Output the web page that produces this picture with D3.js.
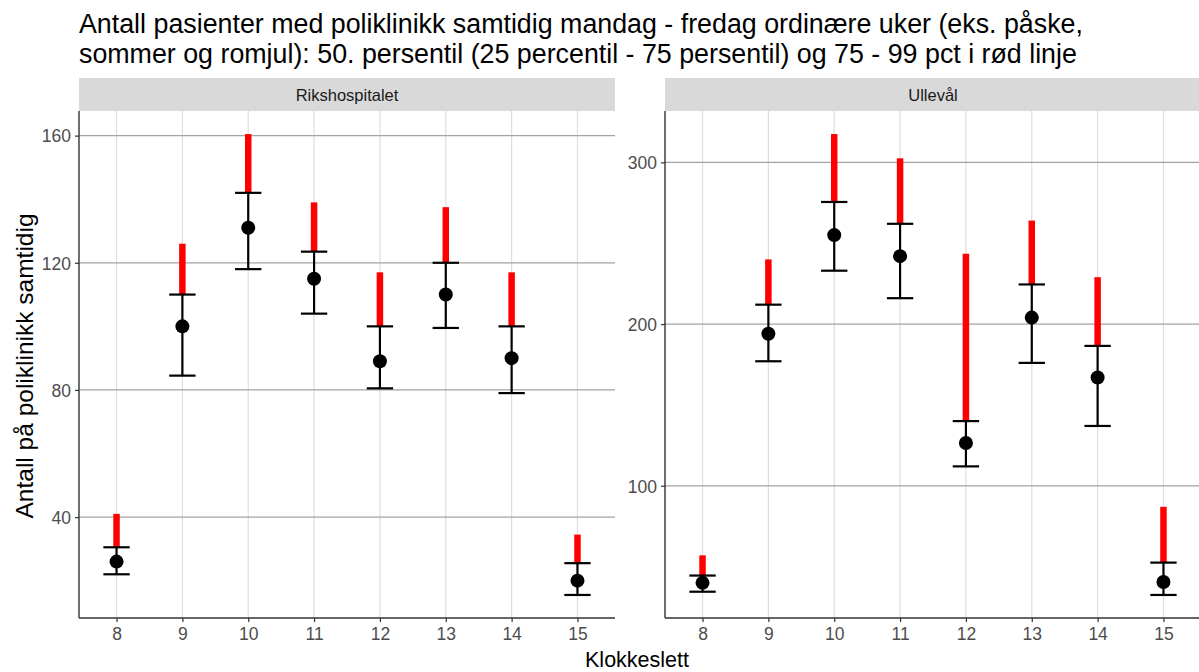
<!DOCTYPE html>
<html>
<head>
<meta charset="utf-8">
<script src="https://cdn.jsdelivr.net/npm/d3@7"></script>
<style>
  body { margin: 0; background: #ffffff; }
  svg { font-family: "Liberation Sans", Arial, sans-serif; }
</style>
</head>
<body>
<div id="chart"></div>
<script>

// --------------------------------------------------------
// (1) Data
// --------------------------------------------------------

var hours = [8, 9, 10, 11, 12, 13, 14, 15]
var panels = ["Rikshospitalet", "Ullevål"]

// Rikshospitalet
var rhMedian = [26, 100, 131, 115, 89, 110, 90, 20]
var rhP25    = [22, 84.5, 118, 104, 80.5, 99.5, 79, 15.5]
var rhP75    = [30.5, 110, 142, 123.5, 100, 120, 100, 25.5]
var rhP99    = [41, 126, 160.5, 139, 117, 137.5, 117, 34.5]

// Ullevål
var uusMedian = [40, 194, 255, 242, 126.5, 204, 167, 40.5]
var uusP25    = [34.5, 177, 233, 216, 112, 176, 137, 32.5]
var uusP75    = [44.5, 212, 275.5, 262, 140, 224.5, 186.5, 52.5]
var uusP99    = [57, 240, 317.5, 302.5, 243.5, 264, 229, 87]

var rhTicks = [40, 80, 120, 160]
var uusTicks = [100, 200, 300]

var titleLines = [
  "Antall pasienter med poliklinikk samtidig mandag - fredag ordinære uker (eks. påske,",
  "sommer og romjul): 50. persentil (25 percentil - 75 persentil) og 75 - 99 pct i rød linje"
]
var xTitle = "Klokkeslett"
var yTitle = "Antall på poliklinikk samtidig"

// --------------------------------------------------------
// (2) Layout
// --------------------------------------------------------

var svg_width = 1199
var svg_height = 672

var panelTop = 111
var panelBottom = 618
var stripTop = 78
var panelWidth = 536
var panelLefts = [79, 665]

var capHalf = 0.2   // error bar width 0.4

function makeRows(med, p25, p75, p99) {
  return hours.map((h, i) => ({ hour: h, med: med[i], lo: p25[i], hi: p75[i], top: p99[i] }))
}

var facets = [
  { name: panels[0], rows: makeRows(rhMedian, rhP25, rhP75, rhP99), ticks: rhTicks },
  { name: panels[1], rows: makeRows(uusMedian, uusP25, uusP75, uusP99), ticks: uusTicks }
]

// --------------------------------------------------------
// (3) Draw
// --------------------------------------------------------

const svg = d3.select("#chart")
  .append("svg")
    .attr("width", svg_width)
    .attr("height", svg_height)

// title
svg.append("g")
  .selectAll("text")
  .data(titleLines)
  .join("text")
    .attr("x", 79)
    .attr("y", (d, i) => 33 + i * 30)
    .attr("font-size", 26.8)
    .attr("fill", "#000")
    .text(d => d)

facets.forEach((f, k) => {
  const left = panelLefts[k]

  const x = d3.scaleLinear()
    .domain([hours[0] - capHalf, hours[hours.length - 1] + capHalf])
    .range([0, panelWidth])
  const xd = x.domain(), xr = xd[1] - xd[0]
  x.domain([xd[0] - 0.05 * xr, xd[1] + 0.05 * xr])

  const ext = [d3.min(f.rows, d => d.lo), d3.max(f.rows, d => d.top)]
  const er = ext[1] - ext[0]
  const y = d3.scaleLinear()
    .domain([ext[0] - 0.05 * er, ext[1] + 0.05 * er])
    .range([panelBottom - panelTop, 0])

  const g = svg.append("g")
    .attr("transform", `translate(${left}, ${panelTop})`)

  const h = panelBottom - panelTop

  // strip
  svg.append("rect")
    .attr("x", left)
    .attr("y", stripTop)
    .attr("width", panelWidth)
    .attr("height", panelTop - stripTop)
    .attr("fill", "#d9d9d9")
  svg.append("text")
    .attr("x", left + panelWidth / 2)
    .attr("y", stripTop + (panelTop - stripTop) / 2 + 6)
    .attr("text-anchor", "middle")
    .attr("font-size", 16.5)
    .attr("fill", "#1a1a1a")
    .text(f.name)

  // vertical grid
  g.append("g")
    .selectAll("line")
    .data(hours)
    .join("line")
      .attr("x1", d => x(d)).attr("x2", d => x(d))
      .attr("y1", 0).attr("y2", h)
      .attr("stroke", "#dedede")
      .attr("stroke-width", 1.2)

  // horizontal grid
  g.append("g")
    .selectAll("line")
    .data(f.ticks)
    .join("line")
      .attr("x1", 0).attr("x2", panelWidth)
      .attr("y1", d => y(d)).attr("y2", d => y(d))
      .attr("stroke", "#a3a3a3")
      .attr("stroke-width", 1.3)

  // axes
  const yAxis = g.append("g")
    .call(d3.axisLeft(y).tickValues(f.ticks).tickSize(4).tickPadding(4))
  const xAxis = g.append("g")
    .attr("transform", `translate(0, ${h})`)
    .call(d3.axisBottom(x).tickValues(hours).tickSize(4).tickPadding(6))

  ;[xAxis, yAxis].forEach(a => {
    a.select(".domain").remove()
    a.selectAll(".tick line").attr("stroke", "#333").attr("stroke-width", 1.2)
    a.selectAll(".tick text")
      .attr("fill", "#4d4d4d")
      .attr("font-size", 17.5)
      .attr("font-family", "Liberation Sans, Arial, sans-serif")
  })
  yAxis.selectAll(".tick text").attr("dy", "0.36em")

  g.append("line")
    .attr("x1", 0).attr("x2", 0).attr("y1", 0).attr("y2", h)
    .attr("stroke", "#333").attr("stroke-width", 1.4)
  g.append("line")
    .attr("x1", 0).attr("x2", panelWidth).attr("y1", h).attr("y2", h)
    .attr("stroke", "#333").attr("stroke-width", 1.4)

  // red 75 - 99 line
  g.append("g")
    .selectAll("line")
    .data(f.rows)
    .join("line")
      .attr("x1", d => x(d.hour)).attr("x2", d => x(d.hour))
      .attr("y1", d => y(d.hi)).attr("y2", d => y(d.top))
      .attr("stroke", "#ff0000")
      .attr("stroke-width", 6.5)

  // error bars 25 - 75
  const eb = g.append("g")
    .attr("stroke", "#000")
    .attr("stroke-width", 2.2)
    .attr("fill", "none")
  eb.selectAll(".v")
    .data(f.rows)
    .join("line")
      .attr("class", "v")
      .attr("x1", d => x(d.hour)).attr("x2", d => x(d.hour))
      .attr("y1", d => y(d.lo)).attr("y2", d => y(d.hi))
  eb.selectAll(".capHi")
    .data(f.rows)
    .join("line")
      .attr("class", "capHi")
      .attr("x1", d => x(d.hour - capHalf)).attr("x2", d => x(d.hour + capHalf))
      .attr("y1", d => y(d.hi)).attr("y2", d => y(d.hi))
  eb.selectAll(".capLo")
    .data(f.rows)
    .join("line")
      .attr("class", "capLo")
      .attr("x1", d => x(d.hour - capHalf)).attr("x2", d => x(d.hour + capHalf))
      .attr("y1", d => y(d.lo)).attr("y2", d => y(d.lo))

  // median points
  g.append("g")
    .selectAll("circle")
    .data(f.rows)
    .join("circle")
      .attr("cx", d => x(d.hour))
      .attr("cy", d => y(d.med))
      .attr("r", 7)
      .attr("fill", "#000")
})

// axis titles
svg.append("text")
  .attr("x", 637)
  .attr("y", 667)
  .attr("text-anchor", "middle")
  .attr("font-size", 21.5)
  .attr("fill", "#000")
  .text(xTitle)

svg.append("text")
  .attr("transform", `translate(33, 366) rotate(-90)`)
  .attr("text-anchor", "middle")
  .attr("font-size", 24.5)
  .attr("fill", "#000")
  .text(yTitle)

</script>
</body>
</html>
